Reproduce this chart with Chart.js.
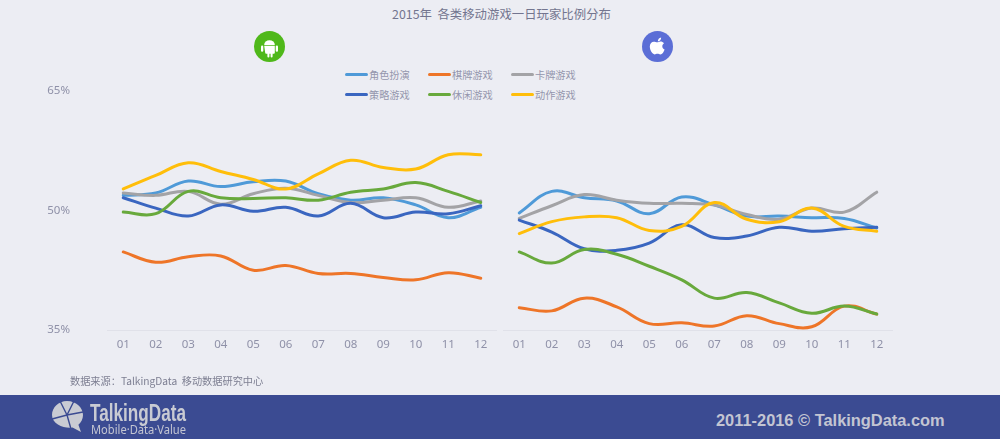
<!DOCTYPE html>
<html lang="zh">
<head>
<meta charset="utf-8">
<title>2015年 各类移动游戏一日玩家比例分布</title>
<script src="https://cdn.jsdelivr.net/npm/chart.js@4/dist/chart.umd.min.js"></script>
<style>
  html, body { margin: 0; padding: 0; }
  body { width: 1000px; height: 439px; position: relative; overflow: hidden; background: #ecedf3;
         font-family: "Noto Sans CJK SC", "Noto Sans", sans-serif; }
  canvas { position: absolute; top: 0; }
  #title { position: absolute; left: 392px; top: 6px; font-size: 12.4px; line-height: 16px; color: #73758f; white-space: pre; }
  #source { position: absolute; left: 70px; top: 373px; font-family: "Noto Sans CJK TC", sans-serif; font-size: 10.2px; line-height: 16px; color: #7d7f92; white-space: pre; }
  .badge { position: absolute; top: 31px; width: 31px; height: 31px; }
  .key { position: absolute; height: 14px; font-size: 10.2px; line-height: 14px; color: #9496ad; white-space: nowrap; }
  .key i { position: absolute; left: -24px; top: 5px; width: 23px; height: 3px; border-radius: 2px; }
  #footer { position: absolute; left: 0; top: 395px; width: 1000px; height: 44px; background: #3b4b92; }
  #copy { position: absolute; left: 716px; top: 15px; font: bold 16.4px/20px "Liberation Sans", sans-serif; color: #c3c5d2; white-space: pre; }
</style>
</head>
<body>
<div id="title">2015年  各类移动游戏一日玩家比例分布</div>

<svg class="badge" style="left:254px" viewBox="0 0 31 31">
  <circle cx="15.5" cy="15.5" r="15.5" fill="#4fb81a"/>
  <path d="M10.2 14 a5.3 4.8 0 0 1 10.6 0 z" fill="#fff"/>
  <path d="M10.2 14.8 h10.6 v7 a1 1 0 0 1 -1 1 h-1.2 v2.6 a1 1 0 0 1 -2 0 v-2.6 h-1.2 v2.6 a1 1 0 0 1 -2 0 v-2.6 h-1.2 a1 1 0 0 1 -1 -1 z" fill="#fff"/>
  <rect x="7" y="14.6" width="2.3" height="6.2" rx="1.1" fill="#fff"/>
  <rect x="21.7" y="14.6" width="2.3" height="6.2" rx="1.1" fill="#fff"/>
</svg>
<svg class="badge" style="left:642px" viewBox="0 0 31 31">
  <circle cx="15.5" cy="15.5" r="15.5" fill="#5b6ed6"/>
  <path d="M16 11.2 c2-1.2 4.4-1 6 1 c-2.4 1.6-2.2 5 .6 6.2 c-.8 2.4-2.4 5-4.2 5 c-1.2 0-1.6-.7-2.9-.7 c-1.300 0-1.800 .7-2.900 .7 c-2.200 0-4.800-4.400-4.800-7.800 c0-3.200 2-4.900 4-4.900 c1.400 0 2.300 .6 4.200 .5 z" fill="#fff"/>
  <path d="M15.800 10.400 c0-2 1.400-3.500 3.300-3.800 c.2 2.100-1.300 3.700-3.300 3.800 z" fill="#fff"/>
</svg>

<div id="legend"></div>
<canvas id="androidChart" width="497" height="390" style="left:0"></canvas>
<canvas id="iosChart" width="390" height="390" style="left:503px"></canvas>
<div id="source">数据来源：TalkingData  移动数据研究中心</div>

<div id="footer">
  <svg width="200" height="44" style="position:absolute;left:0;top:0">
    <path d="M67 6 c9 0 16 6.500 16 14 c0 4-1.800 7.200-4.600 9.700 l2.600 7.300 l-8.500-4.500 c-8 1.200-20.500-3-20.500-12.500 c0-7.500 6.500-14 15-14 z" fill="#c9cbd3"/>
    <path d="M67 20 L60 6 M67 20 L74 6 M67 20 L83 17 M67 20 L52 24 M67 20 L71 34" stroke="#3b4b92" stroke-width="1.400" fill="none"/>
    <text x="90" y="26" textLength="96" lengthAdjust="spacingAndGlyphs" font-family="Liberation Sans Narrow, Liberation Sans" font-weight="bold" font-size="23" fill="#c9cbd3">TalkingData</text>
    <text x="91" y="38.500" textLength="95" lengthAdjust="spacingAndGlyphs" font-family="Noto Sans" font-size="12" fill="#c3c5d2">Mobile·Data·Value</text>
  </svg>
  <div id="copy">2011-2016 © TalkingData.com</div>
</div>

<script>
// --- DATA ---
const months = ['01', '02', '03', '04', '05', '06', '07', '08', '09', '10', '11', '12'];
const seriesNames = ['角色扮演', '棋牌游戏', '卡牌游戏', '策略游戏', '休闲游戏', '动作游戏'];
const seriesColors = ['#4f9ad8', '#ee7528', '#a3a3a6', '#3a66c0', '#68a93c', '#ffbe0a'];

// Android, percent
const androidRole     = [51.9, 52.2, 53.7, 53.0, 53.6, 53.7, 52.1, 51.3, 51.6, 50.7, 49.1, 50.4];
const androidChess    = [44.8, 43.5, 44.2, 44.3, 42.5, 43.1, 42.1, 42.1, 41.6, 41.3, 42.2, 41.5];
const androidCard     = [52.2, 51.9, 52.4, 50.8, 52.1, 52.8, 51.9, 51.0, 51.3, 51.6, 50.4, 51.2];
const androidStrategy = [51.6, 50.3, 49.3, 50.7, 49.9, 50.4, 49.3, 50.9, 49.1, 49.8, 49.6, 50.6];
const androidCasual   = [49.8, 49.6, 52.4, 51.6, 51.5, 51.6, 51.3, 52.3, 52.7, 53.5, 52.4, 51.0];
const androidAction   = [52.7, 54.4, 56.0, 54.9, 53.9, 52.7, 54.6, 56.3, 55.4, 55.2, 57.0, 57.0];

// iOS, percent
const iosRole     = [49.7, 52.4, 51.6, 51.2, 49.6, 51.7, 50.7, 49.3, 49.3, 49.1, 49.0, 47.8];
const iosChess    = [37.8, 37.4, 39.0, 37.9, 35.8, 35.9, 35.5, 36.8, 35.8, 35.4, 38.0, 37.0];
const iosCard     = [49.0, 50.6, 52.0, 51.3, 50.9, 50.9, 50.7, 49.5, 48.9, 50.3, 49.8, 52.3];
const iosStrategy = [48.8, 47.3, 45.2, 45.0, 45.9, 48.2, 46.6, 46.8, 47.9, 47.4, 47.7, 47.9];
const iosCasual   = [44.8, 43.4, 45.1, 44.5, 43.0, 41.3, 39.0, 39.7, 38.4, 37.1, 38.0, 37.0];
const iosAction   = [47.1, 48.6, 49.2, 49.1, 47.5, 48.0, 51.0, 48.9, 48.6, 50.3, 48.0, 47.4];

const androidSeries = [androidRole, androidChess, androidCard, androidStrategy, androidCasual, androidAction];
const iosSeries = [iosRole, iosChess, iosCard, iosStrategy, iosCasual, iosAction];

const axisMin = 35;
const axisMax = 65;
const axisStep = 15;

// --- LEGEND ---
const legendSpots = [[369, 68], [452, 68], [535, 68], [369, 88], [452, 88], [535, 88]];
const legend = document.getElementById('legend');
seriesNames.forEach((name, i) => {
  const key = document.createElement('div');
  key.className = 'key';
  key.style.left = legendSpots[i][0] + 'px';
  key.style.top = legendSpots[i][1] + 'px';
  key.innerHTML = `<i style="background:${seriesColors[i]}"></i>${name}`;
  legend.appendChild(key);
});

// --- CHARTS ---
function buildChart(id, series, showValues) {
  new Chart(document.getElementById(id), {
    type: 'line',
    data: {
      labels: months,
      datasets: series.map((values, i) => ({
        label: seriesNames[i],
        data: values,
        borderColor: seriesColors[i],
        borderWidth: 3,
        tension: 0.4,
        pointRadius: 0,
        borderCapStyle: 'round',
        order: series.length - i // later series sit on top
      }))
    },
    options: {
      responsive: false,
      animation: false,
      layout: { padding: { top: 91, left: 0, right: 0, bottom: 0 } },
      plugins: { legend: { display: false }, tooltip: { enabled: false } },
      scales: {
        x: {
          offset: true,
          grid: { display: false },
          border: { color: '#e0e1e9', width: 1 },
          ticks: { color: '#8f91a8', font: { family: 'Noto Sans', size: 11.5 }, padding: 0, maxRotation: 0 },
          afterFit: s => { s.height = 60; }
        },
        y: {
          display: showValues,
          min: axisMin,
          max: axisMax,
          grid: { display: false },
          border: { display: false },
          ticks: {
            stepSize: axisStep,
            color: '#8f91a8',
            font: { family: 'Noto Sans', size: 11.5 },
            padding: 29,
            callback: v => v + '%'
          },
          afterFit: s => { s.width = showValues ? 107 : 0; }
        }
      }
    }
  });
}

buildChart('androidChart', androidSeries, true);
buildChart('iosChart', iosSeries, false);
</script>
</body>
</html>
